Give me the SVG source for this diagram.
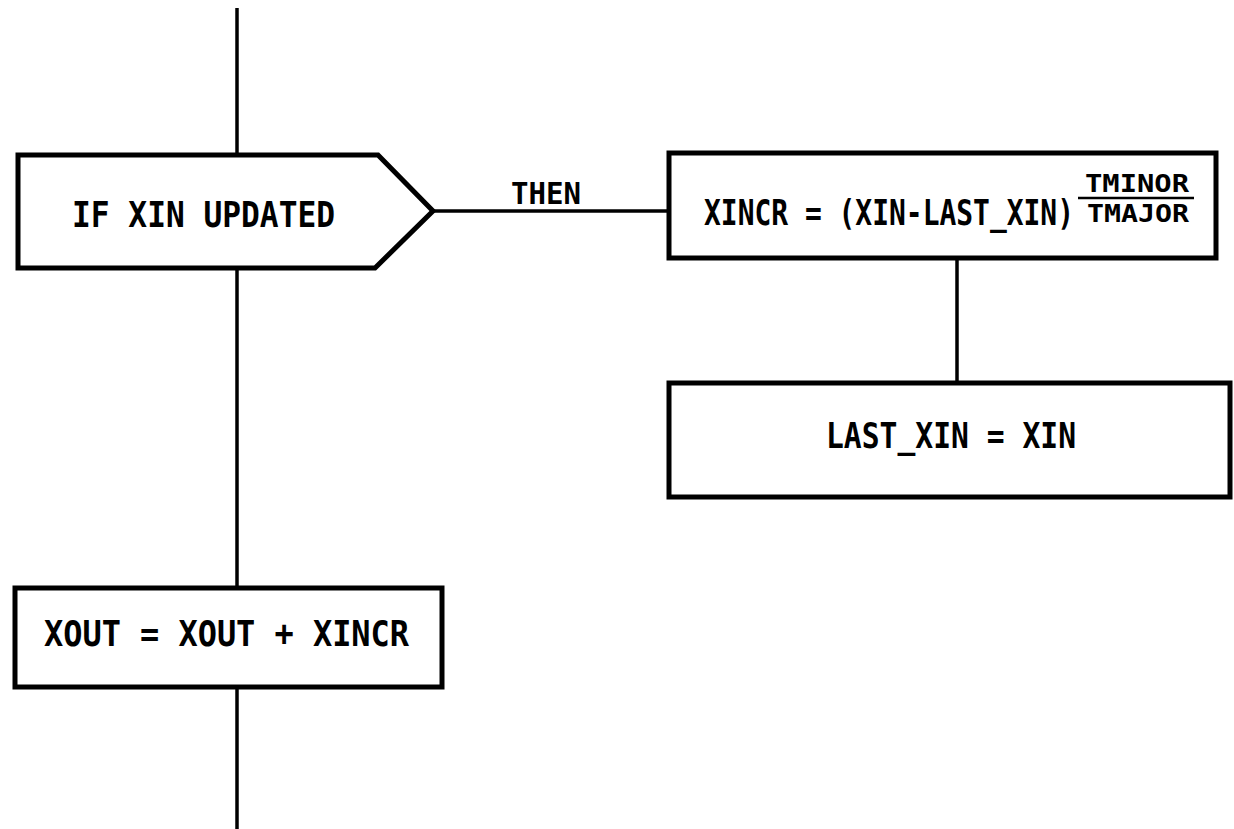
<svg xmlns="http://www.w3.org/2000/svg" width="1234" height="829" viewBox="0 0 1234 829">
<style>
.box{fill:#fff;stroke:#000;stroke-width:5;stroke-linejoin:miter}
.ln{stroke:#000;stroke-width:3.5;fill:none}
.t{font-family:"DejaVu Sans Mono","Liberation Mono",monospace;font-size:35px;font-weight:bold;fill:#000}
.s{font-family:"DejaVu Sans Mono","Liberation Mono",monospace;font-size:24px;font-weight:bold;fill:#000}
</style>
<rect width="1234" height="829" fill="#fff"/>
<g id="connectors">
<line class="ln" x1="237" y1="8" x2="237" y2="155"/>
<line class="ln" x1="237" y1="268" x2="237" y2="588"/>
<line class="ln" x1="237" y1="687" x2="237" y2="829"/>
<line class="ln" x1="433" y1="211" x2="669" y2="211"/>
<line class="ln" x1="957" y1="258" x2="957" y2="383"/>
<text class="t" x="511" y="204" textLength="70" lengthAdjust="spacingAndGlyphs" style="font-size:31px">THEN</text>
</g>
<g id="decision">
<polygon class="box" points="18,155 378,155 433,211 375,268 18,268"/>
<text class="t" x="72" y="227" textLength="263" lengthAdjust="spacingAndGlyphs">IF XIN UPDATED</text>
</g>
<g id="xincr">
<rect class="box" x="669" y="153" width="547" height="105"/>
<text class="t" x="704" y="225" textLength="370" lengthAdjust="spacingAndGlyphs">XINCR = (XIN-LAST_XIN)</text>
<text class="s" x="1085" y="192" textLength="104" lengthAdjust="spacingAndGlyphs">TMINOR</text>
<line x1="1078" y1="198" x2="1194" y2="198" stroke="#000" stroke-width="2.5"/>
<text class="s" x="1087" y="222" textLength="102" lengthAdjust="spacingAndGlyphs">TMAJOR</text>
</g>
<g id="lastxin">
<rect class="box" x="669" y="383" width="561" height="114"/>
<text class="t" x="826" y="448" textLength="250" lengthAdjust="spacingAndGlyphs">LAST_XIN = XIN</text>
</g>
<g id="xout">
<rect class="box" x="15" y="588" width="427" height="99"/>
<text class="t" x="44" y="646" textLength="365" lengthAdjust="spacingAndGlyphs">XOUT = XOUT + XINCR</text>
</g>
</svg>
